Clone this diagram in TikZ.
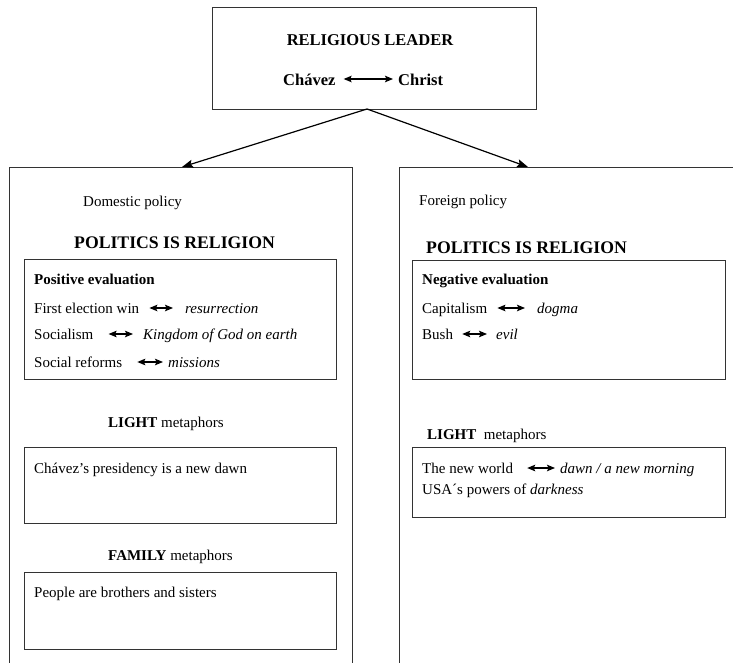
\documentclass[tikz,border=0pt]{standalone}
\usepackage{fontspec}
\setmainfont{Liberation Serif}
\usetikzlibrary{arrows.meta,calc}
\begin{document}
\begin{tikzpicture}[x=1pt,y=-1pt,
  box/.style={draw=black!80,line width=0.9pt,inner sep=0pt,anchor=north west},
  txt/.style={anchor=base west,inner sep=0pt,font=\fontsize{15}{18}\selectfont},
  head/.style={anchor=base west,inner sep=0pt,font=\fontsize{17.7}{21}\selectfont\bfseries},
  top/.style={inner sep=0pt,font=\fontsize{16.5}{20}\selectfont\bfseries},
  dbl/.style={{Stealth[length=8pt,width=6.5pt,inset=1.5pt]}-{Stealth[length=8pt,width=6.5pt,inset=1.5pt]},line width=1.3pt},
  conn/.style={-{Stealth[length=11pt,width=8pt,inset=2pt]},line width=1.2pt}]
\useasboundingbox (0,0) rectangle (733,663);
\clip (0,0) rectangle (733,663);
% top box
\node[box,minimum width=324pt,minimum height=102pt] (leader) at (212,7) {};
\node[top,anchor=base] (rl) at (370,46) {RELIGIOUS LEADER};
\node[top,anchor=base west] (chavez) at (283,86) {Chávez};
\node[top,anchor=base west] (christ) at (398,86) {Christ};
\draw[dbl] ([xshift=8pt,yshift=7pt]chavez.base east) -- ([xshift=-5pt,yshift=7pt]christ.base west);
% outer boxes
\node[box,minimum width=343pt,minimum height=560pt] (domestic) at (9,167) {};
\node[box,minimum width=400pt,minimum height=560pt] (foreign) at (399,167) {};
\coordinate (apex) at (367,109);
\draw[conn] (apex) -- ([xshift=173pt]domestic.north west);
\draw[conn] (apex) -- ([xshift=129pt]foreign.north west);
% left column
\node[txt] (dom) at (83,206) {Domestic policy};
\node[head] (polL) at (74,248) {POLITICS IS RELIGION};
\node[box,minimum width=312pt,minimum height=120pt] (pos) at (24,259) {};
\node[txt] (posT) at (34,284) {\bfseries Positive evaluation};
\node[txt] (fe) at (34,313) {First election win};
\node[txt] (res) at (185,313) {\itshape resurrection};
\draw[dbl] ([xshift=10pt,yshift=5pt]fe.base east) -- ([xshift=-12pt,yshift=5pt]res.base west);
\node[txt] (soc) at (34,339) {Socialism};
\node[txt] (kog) at (143,339) {\itshape Kingdom of God on earth};
\draw[dbl] ([xshift=15pt,yshift=5pt]soc.base east) -- ([xshift=-10pt,yshift=5pt]kog.base west);
\node[txt] (sr) at (34,367) {Social reforms};
\node[txt] (mis) at (168,367) {\itshape missions};
\draw[dbl] ([xshift=15pt,yshift=5pt]sr.base east) -- ([xshift=-5pt,yshift=5pt]mis.base west);
\node[txt] (lightL) at (108,427) {\bfseries LIGHT\mdseries{} metaphors};
\node[box,minimum width=312pt,minimum height=76pt] (lbox) at (24,447) {};
\node[txt] (pres) at (34,473) {Chávez’s presidency is a new dawn};
\node[txt] (fam) at (108,560) {\bfseries FAMILY\mdseries{} metaphors};
\node[box,minimum width=312pt,minimum height=77pt] (fbox) at (24,572) {};
\node[txt] (people) at (34,597) {People are brothers and sisters};
% right column
\node[txt] (forp) at (419,205) {Foreign policy};
\node[head] (polR) at (426,253) {POLITICS IS RELIGION};
\node[box,minimum width=313pt,minimum height=119pt] (neg) at (412,260) {};
\node[txt] (negT) at (422,284) {\bfseries Negative evaluation};
\node[txt] (cap) at (422,313) {Capitalism};
\node[txt] (dog) at (537,313) {\itshape dogma};
\draw[dbl] ([xshift=10pt,yshift=5pt]cap.base east) -- ([xshift=-12pt,yshift=5pt]dog.base west);
\node[txt] (bush) at (422,339) {Bush};
\node[txt] (evil) at (496,339) {\itshape evil};
\draw[dbl] ([xshift=9pt,yshift=5pt]bush.base east) -- ([xshift=-9pt,yshift=5pt]evil.base west);
\node[txt] (lightR) at (427,439) {\bfseries LIGHT\mdseries{}\enspace metaphors};
\node[box,minimum width=313pt,minimum height=70pt] (rbox) at (412,447) {};
\node[txt] (nw) at (422,473) {The new world};
\node[txt] (dawn) at (560,473) {\itshape dawn / a new morning};
\draw[dbl] ([xshift=14pt,yshift=5pt]nw.base east) -- ([xshift=-5pt,yshift=5pt]dawn.base west);
\node[txt] (usa) at (422,494) {USA´s powers of \itshape darkness};
\end{tikzpicture}
\end{document}
